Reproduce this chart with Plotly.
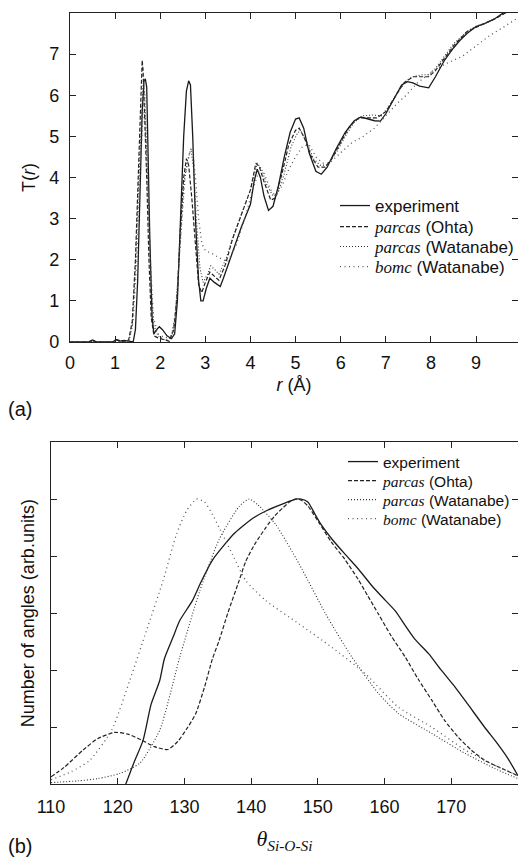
import plotly.graph_objects as go

# ---------------- (a) T(r) data ----------------
exp_r = [0.0, 0.4, 0.5, 0.6, 0.95, 1.02, 1.1, 1.2, 1.4, 1.45, 1.5, 1.55, 1.6, 1.64, 1.67, 1.7, 1.73, 1.77,
         1.82, 1.86, 1.92, 1.98, 2.05, 2.15, 2.25, 2.32, 2.38, 2.45, 2.52, 2.58, 2.63, 2.67, 2.72, 2.78,
         2.85, 2.9, 2.95, 3.02, 3.1, 3.2, 3.33, 3.4, 3.6, 3.8, 4.0, 4.08, 4.15, 4.22, 4.3, 4.4, 4.5, 4.62,
         4.75, 4.88, 5.0, 5.08, 5.18, 5.3, 5.45, 5.57, 5.7, 5.9, 6.1, 6.3, 6.45, 6.6, 6.75, 6.88, 7.0, 7.2,
         7.35, 7.48, 7.6, 7.75, 7.95, 8.1, 8.3, 8.5, 8.64, 8.8, 9.0, 9.2, 9.4, 9.6, 9.95]
exp_T = [0.0, 0.0, 0.05, 0.0, 0.0, 0.06, 0.02, 0.04, 0.0, 0.3, 1.5, 3.5, 5.6, 6.35, 6.4, 6.2, 4.5, 2.5,
         0.6, 0.2, 0.3, 0.37, 0.3, 0.15, 0.08, 0.2, 1.0, 3.0, 5.0, 6.1, 6.35, 6.25, 5.0, 3.0,
         1.5, 1.0, 1.0, 1.3, 1.55, 1.45, 1.35, 1.55, 2.2, 2.8, 3.35, 3.9, 4.2, 4.0, 3.55, 3.2, 3.3, 3.8,
         4.5, 5.1, 5.42, 5.45, 5.2, 4.6, 4.15, 4.08, 4.25, 4.7, 5.1, 5.38, 5.47, 5.42, 5.38, 5.37, 5.55, 5.95,
         6.25, 6.33, 6.3, 6.22, 6.18, 6.45, 6.85, 7.15, 7.33, 7.5, 7.67, 7.75, 7.85, 8.0, 8.2]

ohta_r = [0.0, 0.45, 0.5, 0.55, 1.0, 1.05, 1.12, 1.2, 1.3, 1.38, 1.45, 1.5, 1.55, 1.6, 1.62, 1.66, 1.7,
          1.75, 1.8, 1.86, 1.95, 2.1, 2.2, 2.3, 2.38, 2.45, 2.52, 2.58, 2.63, 2.7, 2.78, 2.85, 2.92, 3.0,
          3.1, 3.2, 3.3, 3.45, 3.6, 3.8, 4.0, 4.12, 4.2, 4.3, 4.45, 4.55, 4.7, 4.85, 5.0, 5.08, 5.2, 5.35,
          5.5, 5.65, 5.8, 6.0, 6.2, 6.4, 6.6, 6.8, 7.0, 7.2, 7.4, 7.6, 7.8, 7.95, 8.1, 8.3, 8.5, 8.8, 9.0,
          9.2, 9.4, 9.65, 9.95]
ohta_T = [0.0, 0.0, 0.04, 0.0, 0.0, 0.05, 0.03, 0.0, 0.05, 0.5, 2.0, 3.5, 5.0, 6.85, 6.6, 5.5, 4.0,
          2.0, 0.6, 0.15, 0.1, 0.05, 0.02, 0.3, 1.2, 2.8, 4.0, 4.46, 4.3, 3.5, 2.3, 1.4, 1.2, 1.45,
          1.7, 1.6, 1.5, 1.9, 2.5, 3.1, 3.7, 4.35, 4.25, 3.9, 3.45, 3.5, 4.1, 4.8, 5.15, 5.2, 4.95, 4.5,
          4.25, 4.25, 4.45, 4.85, 5.25, 5.45, 5.45, 5.45, 5.6, 5.95, 6.3, 6.45, 6.45, 6.45, 6.6, 6.9, 7.2, 7.55, 7.65,
          7.75, 7.85, 8.0, 8.2]

watp_r = [0.0, 1.3, 1.38, 1.45, 1.52, 1.58, 1.62, 1.66, 1.7, 1.75, 1.8, 1.86, 1.95, 2.1, 2.25, 2.33, 2.42,
          2.52, 2.6, 2.68, 2.74, 2.8, 2.88, 2.95, 3.05, 3.12, 3.22, 3.3, 3.45, 3.6, 3.8, 4.0, 4.15, 4.25,
          4.35, 4.5, 4.6, 4.75, 4.9, 5.05, 5.12, 5.25, 5.4, 5.55, 5.7, 5.9, 6.1, 6.3, 6.5, 6.7, 6.9, 7.05,
          7.25, 7.45, 7.6, 7.8, 7.95, 8.1, 8.3, 8.5, 8.8, 9.0, 9.2, 9.4, 9.65, 9.95]
watp_T = [0.0, 0.0, 0.4, 1.8, 3.8, 5.5, 6.3, 6.0, 4.8, 3.0, 1.2, 0.4, 0.15, 0.05, 0.1, 0.6, 2.0,
          3.8, 4.4, 4.7, 4.2, 3.0, 1.8, 1.45, 1.65, 1.85, 1.75, 1.65, 2.0, 2.5, 3.1, 3.7, 4.35, 4.2,
          3.85, 3.55, 3.6, 4.1, 4.75, 5.1, 5.12, 4.85, 4.45, 4.3, 4.3, 4.6, 5.0, 5.35, 5.5, 5.52, 5.5, 5.7,
          6.05, 6.35, 6.45, 6.5, 6.5, 6.65, 6.95, 7.25, 7.55, 7.68, 7.75, 7.85, 8.0, 8.2]

bomc_r = [0.0, 1.3, 1.4, 1.48, 1.55, 1.62, 1.66, 1.72, 1.78, 1.85, 1.95, 2.1, 2.25, 2.35, 2.45, 2.55, 2.65,
          2.72, 2.78, 2.85, 2.92, 3.0, 3.15, 3.3, 3.5, 3.7, 3.9, 4.05, 4.2, 4.3, 4.45, 4.55, 4.7, 4.85,
          5.0, 5.15, 5.3, 5.45, 5.6, 5.75, 6.0, 6.25, 6.5, 6.75, 7.0, 7.25, 7.45, 7.7, 8.0, 8.3, 8.7, 9.0,
          9.3, 9.6, 9.95]
bomc_T = [0.0, 0.0, 0.5, 2.0, 4.0, 5.6, 5.5, 4.0, 2.0, 0.6, 0.2, 0.1, 0.15, 0.8, 2.5, 4.0, 4.6,
          4.7, 4.0, 3.0, 2.4, 2.22, 2.15, 2.05, 1.95, 2.4, 3.1, 3.7, 4.2, 4.1, 3.7, 3.55, 3.8, 4.2,
          4.5, 4.75, 4.8, 4.5, 4.35, 4.35, 4.6, 4.85, 5.0, 5.2, 5.5, 5.8, 6.0, 6.3, 6.55, 6.75, 6.95, 7.2,
          7.45, 7.65, 7.9]

r_ticks = [0, 1, 2, 3, 4, 5, 6, 7, 8, 9]
T_ticks = [0, 1, 2, 3, 4, 5, 6, 7]

# ---------------- (b) bond-angle distribution data ----------------
exp_theta = [121.2, 122.5, 123.8, 125.0, 126.3, 127.0, 128.3, 129.3, 131.2, 132.5, 134.2, 136.0, 137.5,
             139.0, 140.5, 142.2, 144.0, 145.5, 146.7, 147.5, 148.5, 149.5, 150.5, 152.1, 154.1, 156.1,
             158.1, 159.5, 161.6, 163.0, 164.5, 166.6, 168.5, 170.6, 172.5, 175.0, 177.0, 178.5, 180.0]
exp_N = [0.0, 0.4, 0.77, 1.4, 1.82, 2.2, 2.58, 2.87, 3.22, 3.55, 3.93, 4.2, 4.4,
         4.55, 4.68, 4.79, 4.88, 4.95, 5.0, 5.0, 4.95, 4.75, 4.55, 4.3, 4.03, 3.77,
         3.48, 3.3, 3.04, 2.8, 2.55, 2.29, 2.0, 1.7, 1.4, 1.0, 0.7, 0.45, 0.15]

ohta_theta = [110, 112, 114.8, 117, 119.5, 121.5, 123.5, 125.5, 127.5, 129, 130.5, 131.7, 133, 134.2,
              135.2, 136.5, 138.2, 139.2, 140.5, 142.2, 143.5, 144.7, 146.0, 146.7, 147.5, 148.5, 150.1,
              152.0, 154.0, 156.0, 157.5, 159.1, 161.0, 163.1, 165.0, 167.1, 169.0, 171.0, 173.0, 175.0,
              177.5, 180]
ohta_N = [0.13, 0.3, 0.6, 0.8, 0.91, 0.88, 0.78, 0.66, 0.61, 0.75, 1.0, 1.24, 1.7, 2.2,
          2.52, 3.0, 3.57, 3.91, 4.2, 4.5, 4.7, 4.84, 4.97, 5.0, 4.98, 4.88, 4.6,
          4.25, 3.95, 3.6, 3.3, 2.98, 2.6, 2.23, 1.85, 1.47, 1.12, 0.83, 0.6, 0.42,
          0.28, 0.15]

watp_theta = [110, 114, 117, 120.3, 123.3, 126.3, 129.3, 132.3, 135.2, 138.2, 139.7, 141.0, 143.7, 147.2,
              151.2, 155.1, 159.1, 162.1, 167.1, 172.1, 177.0, 180]
watp_N = [0.03, 0.06, 0.1, 0.19, 0.37, 0.95, 2.23, 3.39, 4.29, 4.87, 5.0, 4.9, 4.55, 3.86,
          2.98, 2.23, 1.59, 1.24, 0.89, 0.54, 0.25, 0.1]

bomc_theta = [110, 113, 115.8, 119.1, 121.8, 124.3, 126.8, 128.8, 130.3, 131.8, 133, 134.2, 135.2, 137.2,
              139.2, 142.2, 147.2, 152.1, 157.1, 162.1, 167.1, 172.1, 177, 180]
bomc_N = [0.08, 0.22, 0.42, 0.95, 1.82, 2.69, 3.57, 4.38, 4.79, 5.0, 4.95, 4.73, 4.5, 4.03,
          3.57, 3.22, 2.81, 2.40, 1.94, 1.35, 1.0, 0.6, 0.31, 0.15]

theta_ticks = [110, 120, 130, 140, 150, 160, 170]
N_ticks = [1, 2, 3, 4, 5]

series_names = ["experiment",
                "<span style='font-family:Liberation Serif'><i>parcas</i></span> (Ohta)",
                "<span style='font-family:Liberation Serif'><i>parcas</i></span> (Watanabe)",
                "<span style='font-family:Liberation Serif'><i>bomc</i></span> (Watanabe)"]
styles = [dict(color="#1a1a1a", width=1.3, dash="solid"),
          dict(color="#222222", width=1.2, dash="4px,2px"),
          dict(color="#333333", width=1.1, dash="1px,2px"),
          dict(color="#555555", width=1.3, dash="1px,3.5px")]

SANS = "Liberation Sans"
SERIF = "Liberation Serif"
W, H = 518, 857

fig = go.Figure()
top = [(exp_r, exp_T), (ohta_r, ohta_T), (watp_r, watp_T), (bomc_r, bomc_T)]
bot = [(exp_theta, exp_N), (ohta_theta, ohta_N), (watp_theta, watp_N), (bomc_theta, bomc_N)]
legend_ids = ["legend", "legend2", "legend3", "legend4", "legend5", "legend6", "legend7", "legend8"]
for i, ((x, y), name, st) in enumerate(zip(top, series_names, styles)):
    fig.add_trace(go.Scatter(x=x, y=y, mode="lines", name=name, line=st, showlegend=True,
                             xaxis="x", yaxis="y", legend=legend_ids[i]))
for i, ((x, y), name, st) in enumerate(zip(bot, series_names, styles)):
    fig.add_trace(go.Scatter(x=x, y=y, mode="lines", name=name, line=dict(st, shape="spline", smoothing=0.6),
                             showlegend=True, xaxis="x2", yaxis="y2", legend=legend_ids[4 + i]))

ax_common = dict(showgrid=False, zeroline=False, showline=True, linecolor="#222", linewidth=1.2,
                 mirror="ticks", ticks="inside", ticklen=6, tickcolor="#222", tickwidth=1.2,
                 automargin=False, tickfont=dict(family=SANS, size=18, color="#111"))

legends = {}
top_rows = [206, 227, 247, 267]
bot_rows = [462, 481, 500, 519]
for i, yy in enumerate(top_rows):
    legends[legend_ids[i]] = dict(x=335 / W, y=1 - yy / H, xanchor="left", yanchor="middle",
                                  bgcolor="rgba(0,0,0,0)", font=dict(family=SANS, size=17, color="#111"),
                                  itemwidth=30, visible=True)
for i, yy in enumerate(bot_rows):
    legends[legend_ids[4 + i]] = dict(x=343 / W, y=1 - yy / H, xanchor="left", yanchor="middle",
                                      bgcolor="rgba(0,0,0,0)", font=dict(family=SANS, size=15.5, color="#111"),
                                      itemwidth=30, visible=True)

fig.update_layout(
    width=W, height=H, margin=dict(l=0, r=0, t=0, b=0, autoexpand=False),
    paper_bgcolor="white", plot_bgcolor="white", showlegend=True,
    xaxis=dict(ax_common, domain=[70 / W, 1.0], range=[0, 9.93], tickvals=r_ticks,
               anchor="y", ticklabelstandoff=4,
               title=dict(text="<i>r</i> (Å)", font=dict(family=SANS, size=18, color="#111"), standoff=6)),
    yaxis=dict(ax_common, domain=[1 - 342 / H, 1 - 13 / H], range=[0, 8], tickvals=T_ticks,
               anchor="x", ticklabelstandoff=6,
               title=dict(text="T(<i>r</i>)", font=dict(family=SANS, size=18, color="#111"), standoff=8)),
    xaxis2=dict(ax_common, domain=[51 / W, 1.0], range=[110, 180], tickvals=theta_ticks,
                anchor="y2", ticklabelstandoff=6,
                title=dict(text="<i>θ<sub>Si-O-Si</sub></i>", font=dict(family=SERIF, size=22, color="#111"),
                           standoff=14)),
    yaxis2=dict(ax_common, domain=[1 - 784.3 / H, 1 - 442 / H], range=[0, 6], tickvals=N_ticks,
                anchor="x2", showticklabels=False,
                title=dict(text="Number of angles (arb.units)", font=dict(family=SANS, size=18, color="#111"),
                           standoff=10)),
    annotations=[
        dict(text="(a)", x=6 / W, y=1 - 409 / H, xref="paper", yref="paper", xanchor="left", yanchor="middle",
             showarrow=False, font=dict(family=SANS, size=20, color="#111")),
        dict(text="(b)", x=6 / W, y=1 - 846 / H, xref="paper", yref="paper", xanchor="left", yanchor="middle",
             showarrow=False, font=dict(family=SANS, size=20, color="#111")),
    ],
    **legends,
)

fig.write_html("out.html", config={"displayModeBar": False},
               post_script="document.body.style.margin='0';document.body.style.overflow='hidden';")
